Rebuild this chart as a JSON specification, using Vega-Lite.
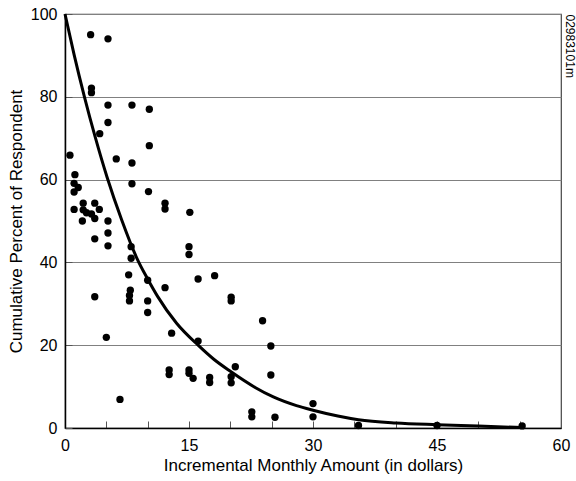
{
  "$schema": "https://vega.github.io/schema/vega-lite/v6.json",
  "width": 496,
  "height": 414,
  "autosize": "none",
  "padding": {"left": 65, "top": 14, "right": 15, "bottom": 53},
  "background": "white",
  "config": {
    "font": "Liberation Sans",
    "view": {"stroke": "#444", "strokeWidth": 1.2},
    "axis": {
      "labelFont": "Liberation Sans",
      "titleFont": "Liberation Sans",
      "labelFontSize": 16,
      "titleFontSize": 17,
      "labelColor": "black",
      "titleColor": "black",
      "titleFontWeight": "normal",
      "domainColor": "black",
      "domainWidth": 1.5,
      "tickColor": "#555"
    }
  },
  "datasets": {
    "points": [
      {"amount": 3.1, "percent": 95}, {"amount": 5.2, "percent": 94},
      {"amount": 3.2, "percent": 82.1}, {"amount": 3.2, "percent": 81},
      {"amount": 5.2, "percent": 78}, {"amount": 8.1, "percent": 78},
      {"amount": 10.2, "percent": 77}, {"amount": 5.2, "percent": 73.8},
      {"amount": 4.2, "percent": 71.1}, {"amount": 10.2, "percent": 68.2},
      {"amount": 0.6, "percent": 65.9}, {"amount": 6.2, "percent": 65},
      {"amount": 8.1, "percent": 64}, {"amount": 1.2, "percent": 61.2},
      {"amount": 1.1, "percent": 59.1}, {"amount": 1.6, "percent": 58.1},
      {"amount": 1.1, "percent": 57}, {"amount": 8.1, "percent": 59},
      {"amount": 10.1, "percent": 57.1}, {"amount": 12.1, "percent": 54.3},
      {"amount": 12.1, "percent": 52.9}, {"amount": 15.1, "percent": 52.1},
      {"amount": 2.2, "percent": 54.3}, {"amount": 3.6, "percent": 54.3},
      {"amount": 1.1, "percent": 52.8}, {"amount": 2.2, "percent": 52.7},
      {"amount": 2.6, "percent": 52}, {"amount": 3.2, "percent": 51.7},
      {"amount": 4.15, "percent": 52.8}, {"amount": 3.6, "percent": 50.6},
      {"amount": 2.1, "percent": 50}, {"amount": 5.2, "percent": 50},
      {"amount": 5.2, "percent": 47.1}, {"amount": 3.6, "percent": 45.7},
      {"amount": 5.2, "percent": 44}, {"amount": 8, "percent": 43.8},
      {"amount": 8, "percent": 41}, {"amount": 15, "percent": 43.8},
      {"amount": 15, "percent": 41.9}, {"amount": 7.7, "percent": 37},
      {"amount": 10, "percent": 35.7}, {"amount": 12.1, "percent": 33.9},
      {"amount": 16.1, "percent": 36}, {"amount": 18.1, "percent": 36.8},
      {"amount": 3.6, "percent": 31.7}, {"amount": 7.9, "percent": 33.3},
      {"amount": 7.8, "percent": 32}, {"amount": 7.8, "percent": 30.7},
      {"amount": 10, "percent": 30.7}, {"amount": 10, "percent": 27.9},
      {"amount": 5, "percent": 21.9}, {"amount": 6.65, "percent": 6.9},
      {"amount": 12.9, "percent": 22.9}, {"amount": 16.1, "percent": 21},
      {"amount": 12.6, "percent": 14}, {"amount": 12.6, "percent": 12.9},
      {"amount": 15, "percent": 14}, {"amount": 15, "percent": 13.2},
      {"amount": 15.5, "percent": 12}, {"amount": 17.5, "percent": 12.2},
      {"amount": 17.5, "percent": 11}, {"amount": 20.1, "percent": 12.4},
      {"amount": 20.1, "percent": 10.9}, {"amount": 20.6, "percent": 14.8},
      {"amount": 20.1, "percent": 31.6}, {"amount": 20.1, "percent": 30.7},
      {"amount": 22.6, "percent": 3.9}, {"amount": 22.6, "percent": 2.7},
      {"amount": 23.9, "percent": 25.9}, {"amount": 24.9, "percent": 19.8},
      {"amount": 24.9, "percent": 12.8}, {"amount": 25.4, "percent": 2.6},
      {"amount": 30, "percent": 5.9}, {"amount": 30, "percent": 2.7},
      {"amount": 35.5, "percent": 0.6}, {"amount": 45, "percent": 0.6},
      {"amount": 55.3, "percent": 0.5}
    ],
    "curve": [
      {"amount": 0, "percent": 100}, {"amount": 1.1, "percent": 90.2},
      {"amount": 2.35, "percent": 80}, {"amount": 3.65, "percent": 70.3},
      {"amount": 5.1, "percent": 60.5}, {"amount": 6.85, "percent": 50.3},
      {"amount": 8.7, "percent": 41}, {"amount": 10, "percent": 36},
      {"amount": 11.2, "percent": 31.8}, {"amount": 13.5, "percent": 25.3},
      {"amount": 16.1, "percent": 20}, {"amount": 18, "percent": 16.6},
      {"amount": 20, "percent": 13.7}, {"amount": 23, "percent": 9.8},
      {"amount": 25.2, "percent": 7.5}, {"amount": 28, "percent": 5.4},
      {"amount": 30, "percent": 4.3}, {"amount": 33, "percent": 2.9},
      {"amount": 35.5, "percent": 2.0}, {"amount": 40, "percent": 1.2},
      {"amount": 45, "percent": 0.8}, {"amount": 50, "percent": 0.5},
      {"amount": 55.3, "percent": 0.1}
    ]
  },
  "layer": [
    {
      "data": {"name": "points"},
      "mark": {"type": "circle", "size": 54, "color": "black", "opacity": 1},
      "encoding": {
        "x": {
          "field": "amount", "type": "quantitative",
          "scale": {"domain": [0, 60], "nice": false, "zero": true},
          "axis": {
            "title": "Incremental Monthly Amount (in dollars)",
            "values": [0, 5, 10, 15, 20, 25, 30, 35, 40, 45, 50, 55, 60],
            "labelExpr": "datum.value % 15 === 0 ? datum.label : ''",
            "tickSize": -7,
            "labelPadding": 16,
            "titlePadding": 4,
            "grid": false,
            "labelFlush": false,
            "labelOverlap": false
          }
        },
        "y": {
          "field": "percent", "type": "quantitative",
          "scale": {"domain": [0, 100], "nice": false},
          "axis": {
            "title": "Cumulative Percent of Respondent",
            "values": [0, 20, 40, 60, 80, 100],
            "tickSize": -7,
            "labelPadding": 15,
            "titlePadding": 5,
            "grid": true,
            "gridColor": "#808080",
            "gridWidth": 1,
            "labelFlush": false
          }
        }
      }
    },
    {
      "data": {"name": "curve"},
      "mark": {"type": "line", "color": "black", "strokeWidth": 3, "interpolate": "monotone"},
      "encoding": {
        "x": {"field": "amount", "type": "quantitative"},
        "y": {
          "field": "percent", "type": "quantitative",
          "axis": {
            "orient": "right",
            "title": "02983101m",
            "titleFontSize": 12,
            "titleAngle": 90,
            "titleAnchor": "end",
            "titleAlign": "left",
            "titleBaseline": "bottom",
            "titlePadding": 1,
            "labels": false,
            "ticks": false,
            "domain": false,
            "grid": false
          }
        }
      }
    }
  ],
  "resolve": {"axis": {"y": "independent"}}
}
